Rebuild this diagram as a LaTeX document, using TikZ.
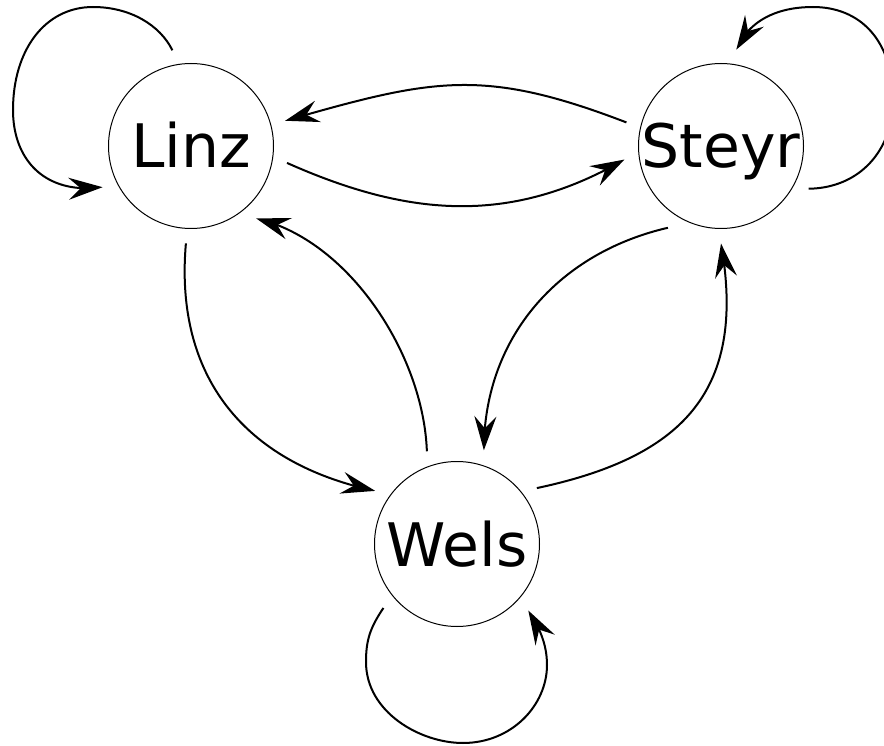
\documentclass[tikz,border=0pt]{standalone}
\usepackage{fontspec}
\setmainfont{DejaVu Sans}
\usetikzlibrary{arrows.meta,bending}
\begin{document}
\begin{tikzpicture}[x=1pt,y=-1pt,
  city/.style={circle,draw=black,line width=1pt,minimum size=165pt,inner sep=0pt,outer sep=15pt,
    font=\fontsize{60}{60}\selectfont,text height=44pt,text depth=0pt},
  conn/.style={line width=2pt,-{Stealth[length=34pt,width=22pt,inset=12pt]}}]
\useasboundingbox (0,0) rectangle (884,746);
\clip (0,0) rectangle (884,746);
\node[city] (linz) at (191,146) {Linz};
\node[city] (steyr) at (721,146) {Steyr};
\node[city] (wels) at (457,544) {Wels};
% Linz <-> Steyr
\draw[conn] (linz.350) to[out=-24,in=210] (steyr.188);
\draw[conn] (steyr.166) to[out=159,in=16,looseness=1.15] (linz.15);
% Linz <-> Wels
\draw[conn] (linz.267) to[out=265,in=168,looseness=1.1] (wels.147);
\draw[conn] (wels.108) to[out=92,in=-13,looseness=0.85] (linz.312);
% Steyr <-> Wels
\draw[conn] (steyr.237) to[out=193,in=90] (wels.74);
\draw[conn] (wels.35) to[out=12,in=-80,looseness=1.25] (steyr.270);
% self loops
\draw[conn] (linz.101) .. controls (160,25) and (130,7) .. (93,7)
  .. controls (45,7) and (13,50) .. (13,110)
  .. controls (13,160) and (45,195) .. (linz.205);
\draw[conn] (steyr.-26) .. controls (860,188) and (893,150) .. (893,100)
  .. controls (893,40) and (860,7) .. (813,7)
  .. controls (775,7) and (748,22) .. (steyr.81);
\draw[conn] (wels.221) .. controls (370,628) and (366,640) .. (366,662)
  .. controls (366,712) and (420,743) .. (463,743)
  .. controls (512,743) and (547,705) .. (547,665)
  .. controls (547,645) and (540,628) .. (wels.-43);
\end{tikzpicture}
\end{document}
